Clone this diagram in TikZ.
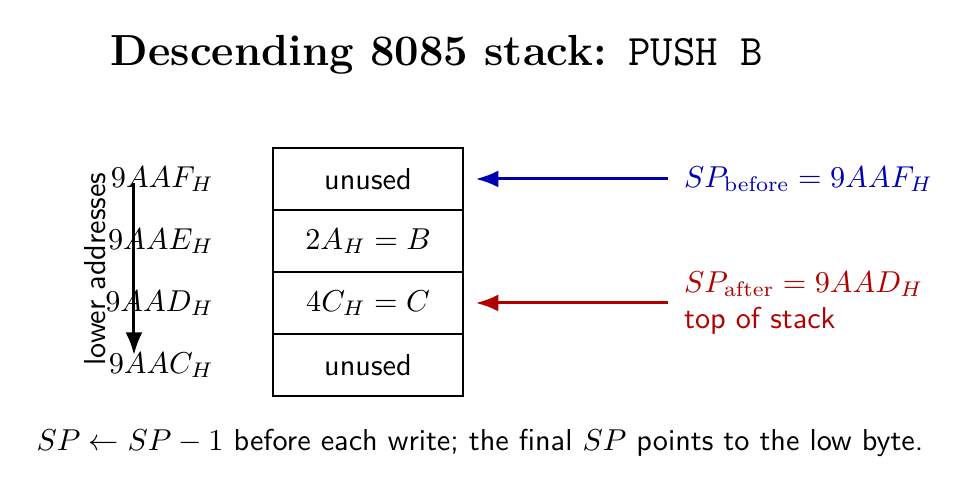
\documentclass[tikz,border=0pt]{standalone}
\usepackage{tikz}
\usetikzlibrary{positioning,arrows.meta}

\colorlet{spblue}{blue!70!black}
\colorlet{spred}{red!70!black}

\begin{document}
\begin{tikzpicture}[>={Latex},line width=1pt,node distance=0.721cm,font=\sffamily,
    cell/.style={draw,thin,minimum width=2.209cm,minimum height=0.721cm,inner sep=0pt},
    addr/.style={font=\normalfont}]

    \useasboundingbox (0,0) rectangle (11.256,-5.721);

    \node[font=\Large\bfseries\rmfamily] (title) at (5.081,-0.640) {Descending 8085 stack: \texttt{\mdseries PUSH B}};

    % stack cells
    \node[cell] (c1) at (4.279,-2.081) {unused};
    \node[cell] (c2) [below of = c1] {$2A_H = B$};
    \node[cell] (c3) [below of = c2] {$4C_H = C$};
    \node[cell] (c4) [below of = c3] {unused};

    % addresses
    \node[addr] (a1) [left=0.547cm of c1] {$9AAF_H$};
    \node[addr] (a2) [left=0.547cm of c2] {$9AAE_H$};
    \node[addr] (a3) [left=0.547cm of c3] {$9AAD_H$};
    \node[addr] (a4) [left=0.547cm of c4] {$9AAC_H$};

    \coordinate (dtop) at (1.558,-2.128);
    \coordinate (dbot) at (1.558,-4.128);
    \draw[->] (dtop) -- (dbot);
    \node[rotate=90] (lower) at (1.105,-3.128) {lower addresses};

    % stack pointer
    \node[spblue,anchor=west] (spb) [right=2.43cm of c1] {$SP_{\mathrm{before}} = 9AAF_H$};
    \node[spred,anchor=west,align=left] (spa) [right=2.43cm of c3] {$SP_{\mathrm{after}} = 9AAD_H$\\top of stack};

    \draw[->,spblue,shorten <=1.6pt,shorten >=4pt] (spb.west) -- (c1.east);
    \draw[->,spred,shorten <=1.6pt,shorten >=4pt] (spa.west) -- (c3.east);

    \node (note) at (5.581,-5.151) {$SP \leftarrow SP - 1$ before each write; the final $SP$ points to the low byte.};

\end{tikzpicture}
\end{document}
